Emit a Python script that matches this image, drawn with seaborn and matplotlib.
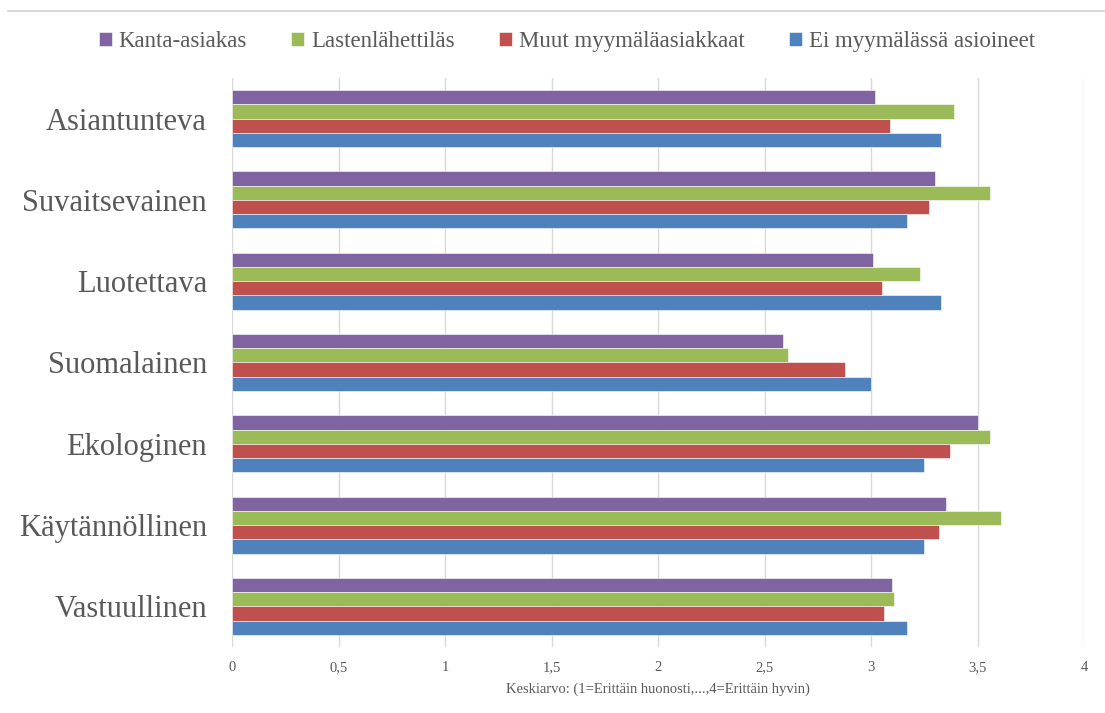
import matplotlib
matplotlib.use("Agg")
import matplotlib.pyplot as plt
from matplotlib.lines import Line2D
from matplotlib.ticker import FuncFormatter
import seaborn as sns
import pandas as pd

categories = ["Asiantunteva", "Suvaitsevainen", "Luotettava", "Suomalainen",
              "Ekologinen", "Käytännöllinen", "Vastuullinen"]
series = ["Kanta-asiakas", "Lastenlähettiläs", "Muut myymäläasiakkaat",
          "Ei myymälässä asioineet"]
kanta_asiakas = [3.02, 3.30, 3.01, 2.585, 3.50, 3.35, 3.10]
lastenlahettilas = [3.39, 3.56, 3.23, 2.61, 3.56, 3.61, 3.11]
muut_asiakkaat = [3.09, 3.27, 3.05, 2.88, 3.37, 3.32, 3.06]
ei_asioineet = [3.33, 3.17, 3.33, 3.00, 3.25, 3.25, 3.17]
x_ticks = [0, 0.5, 1, 1.5, 2, 2.5, 3, 3.5, 4]
x_label = "Keskiarvo: (1=Erittäin huonosti,...,4=Erittäin hyvin)"

colors = ["#8064A2", "#9BBB59", "#C0504D", "#4F81BD"]
text_color = "#595959"

rows = []
for name, vals in zip(series, [kanta_asiakas, lastenlahettilas, muut_asiakkaat, ei_asioineet]):
    for cat, v in zip(categories, vals):
        rows.append({"Ominaisuus": cat, "Ryhmä": name, "Keskiarvo": v})
df = pd.DataFrame(rows)

sns.set_theme(style="white")
plt.rcParams["font.family"] = ["Liberation Serif", "DejaVu Serif"]

fig = plt.figure(figsize=(11.05, 7.13), dpi=100)
ax = fig.add_axes([0.21, 0.0926, 0.771, 0.798])

sns.barplot(data=df, y="Ominaisuus", x="Keskiarvo", hue="Ryhmä",
            order=categories, hue_order=series, palette=colors,
            orient="h", width=0.7, saturation=1, errorbar=None,
            edgecolor="white", linewidth=0.4, ax=ax, zorder=3)

ax.set_xlim(0, 4)
ax.set_xticks(x_ticks)
ax.xaxis.set_major_formatter(FuncFormatter(lambda v, p: f"{v:g}".replace(".", ",")))
ax.grid(axis="x", color="#D9D9D9", linewidth=1, zorder=0)
ax.grid(axis="y", visible=False)
for s in ax.spines.values():
    s.set_visible(False)
ax.tick_params(axis="x", length=0, labelsize=10.5, labelcolor=text_color, pad=10)
ax.tick_params(axis="y", length=0, labelsize=22, labelcolor=text_color, pad=18)
ax.set_ylabel("")
ax.set_xlabel(x_label, fontsize=10.5, color=text_color, labelpad=6)

handles, labels = ax.get_legend_handles_labels()
ax.get_legend().remove()
fig.legend(handles, labels, loc="center", bbox_to_anchor=(0.513, 0.942), ncol=4,
           frameon=False, fontsize=16.5, labelcolor=text_color,
           handlelength=0.55, handleheight=0.55, handletextpad=0.3, columnspacing=1.95)

fig.add_artist(Line2D([0.007, 1.0], [0.985, 0.985], color="#D9D9D9", linewidth=1.5,
                      transform=fig.transFigure))

fig.savefig("out.png", dpi=100)
